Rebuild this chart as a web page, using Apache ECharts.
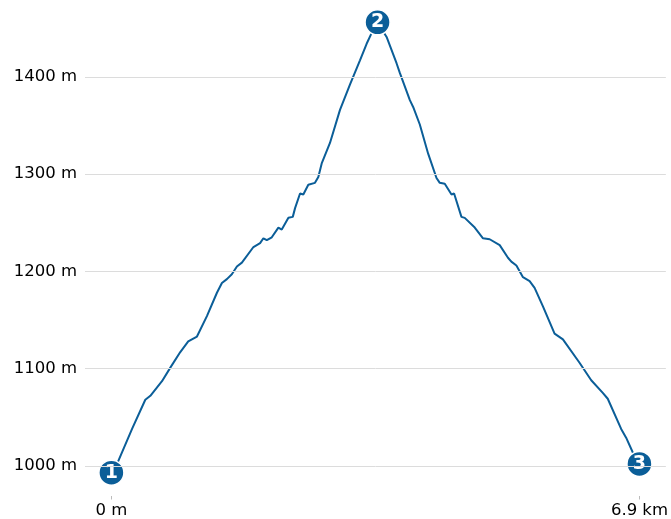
<!DOCTYPE html>
<html>
<head>
<meta charset="utf-8">
<script src="https://cdn.jsdelivr.net/npm/echarts@6/dist/echarts.min.js"></script>
<style>html,body{margin:0;padding:0;background:#fff}#c{width:671px;height:519px}</style>
</head>
<body>
<div id="c"></div>
<script>
// distance (km)
const distKm = [0, 0.074, 0.27, 0.443, 0.509, 0.661, 0.77, 0.90, 1.004, 1.118, 1.248, 1.379, 1.444, 1.509, 1.574, 1.64, 1.705, 1.856, 1.943, 1.986, 2.031, 2.096, 2.182, 2.226, 2.313, 2.37, 2.40, 2.465, 2.508, 2.573, 2.66, 2.704, 2.748, 2.856, 2.987, 3.117, 3.248, 3.335, 3.40, 3.478, 3.596, 3.726, 3.769, 3.90, 3.943, 4.03, 4.139, 4.248, 4.291, 4.356, 4.444, 4.478, 4.574, 4.617, 4.748, 4.856, 4.943, 5.074, 5.182, 5.226, 5.292, 5.378, 5.465, 5.53, 5.639, 5.791, 5.90, 6.117, 6.27, 6.421, 6.486, 6.661, 6.726, 6.812, 6.9];
// elevation (m)
const elevM = [993, 1002, 1038, 1068, 1072, 1087, 1101, 1117, 1128, 1133, 1154, 1178, 1188, 1192, 1197, 1205, 1209, 1225, 1229, 1234, 1232, 1235, 1245, 1243, 1255, 1256, 1265, 1280, 1279, 1289, 1291, 1297, 1311, 1332, 1366, 1392, 1417, 1434, 1445, 1456, 1441, 1414, 1404, 1376, 1369, 1351, 1321, 1296, 1291, 1290, 1279, 1280, 1256, 1255, 1245, 1234, 1233, 1227, 1214, 1210, 1206, 1194, 1190, 1183, 1164, 1136, 1130, 1106, 1088, 1075, 1069, 1038, 1029, 1014, 1002];
// numbered waypoints
const wpKm = [0, 3.478, 6.9];
const wpElev = [993, 1456, 1002];
const wpLabels = ['1', '2', '3'];
// ticks
const yTicks = [1000, 1100, 1200, 1300, 1400];
const xTicks = [0, 6.9];
const xTickLabels = ['0 m', '6.9 km'];

const blue = '#0b5e98';
const font = 'DejaVu Sans';
const chart = echarts.init(document.getElementById('c'), null, {renderer: 'canvas'});
chart.setOption({
  animation: false,
  grid: {left: 85, right: 4, top: 0, bottom: 22, containLabel: false},
  xAxis: {
    type: 'value', min: -0.345, max: 7.245,
    axisLine: {show: false},
    splitLine: {show: false},
    axisTick: {show: true, customValues: xTicks, length: 3.5, lineStyle: {color: '#bbb', width: 1}},
    axisLabel: {customValues: xTicks, margin: 6, fontFamily: font, fontSize: 16.5, color: '#000',
      formatter: v => xTickLabels[xTicks.indexOf(v)] ?? ''}
  },
  yAxis: {
    type: 'value', min: 969, max: 1479,
    axisLine: {show: false},
    splitLine: {show: false},
    axisTick: {show: true, customValues: yTicks, length: 3.5, lineStyle: {color: '#bbb', width: 1}},
    axisLabel: {customValues: yTicks, margin: 8, fontFamily: font, fontSize: 16.5, color: '#000',
      formatter: v => v + ' m'}
  },
  series: [
    {
      type: 'line', data: distKm.map((d, i) => [d, elevM[i]]),
      showSymbol: false, symbol: 'none', clip: false,
      lineStyle: {color: blue, width: 2},
      markLine: {
        silent: true, symbol: 'none', animation: false,
        lineStyle: {color: '#dcdcdc', width: 1, type: 'solid'},
        label: {show: false},
        data: yTicks.map(v => ({yAxis: v}))
      },
      z: 2
    },
    {
      type: 'scatter', data: wpKm.map((d, i) => [d, wpElev[i]]),
      symbol: 'circle', symbolSize: 25, clip: false,
      itemStyle: {color: blue, borderColor: '#fff', borderWidth: 1.5, opacity: 1},
      label: {show: true, position: 'inside', formatter: p => wpLabels[p.dataIndex],
        color: '#fff', fontFamily: font, fontWeight: 'bold', fontSize: 19},
      z: 3
    }
  ]
});
</script>
</body>
</html>
